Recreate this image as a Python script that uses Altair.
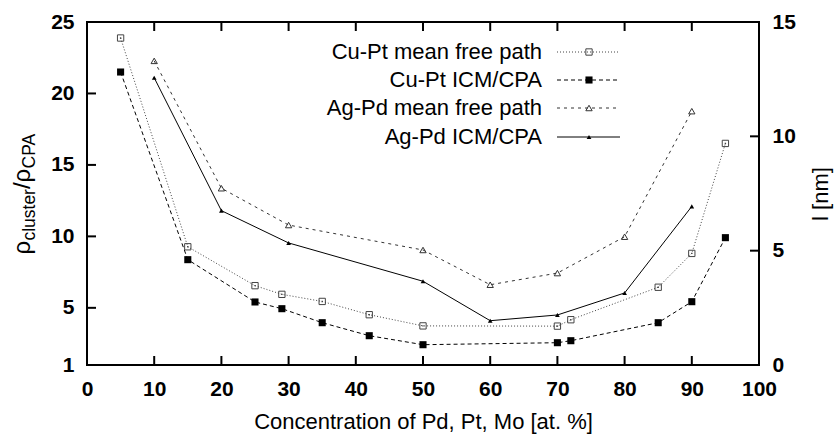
import altair as alt
import pandas as pd

# ---- data -------------------------------------------------------------
conc_cupt = [5, 15, 25, 29, 35, 42, 50, 70, 72, 85, 90, 95]
cupt_mfp = [14.3, 5.17, 3.47, 3.09, 2.78, 2.20, 1.71, 1.70, 1.98, 3.40, 4.88, 9.69]   # l [nm]
cupt_icm = [21.5, 8.37, 5.41, 4.94, 3.96, 3.05, 2.42, 2.56, 2.70, 3.96, 5.43, 9.91]  # rho ratio

conc_agpd = [10, 20, 30, 50, 60, 70, 80, 90]
agpd_mfp = [13.3, 7.73, 6.12, 5.03, 3.51, 4.02, 5.61, 11.1]    # l [nm]
agpd_icm = [21.1, 11.8, 9.54, 6.86, 4.10, 4.50, 6.04, 12.1]    # rho ratio

x_ticks = [0, 10, 20, 30, 40, 50, 60, 70, 80, 90, 100]
rho_ticks = [1, 5, 10, 15, 20, 25]
l_ticks = [0, 5, 10, 15]

legend_names = ["Cu-Pt mean free path", "Cu-Pt ICM/CPA",
                "Ag-Pd mean free path", "Ag-Pd ICM/CPA"]

# ---- layout -----------------------------------------------------------
W, H = 672, 343
FONT = "Liberation Sans"
TICK = 9

cupt = pd.DataFrame({"c": conc_cupt, "mfp": cupt_mfp, "icm": cupt_icm})
agpd = pd.DataFrame({"c": conc_agpd, "mfp": agpd_mfp, "icm": agpd_icm})

x_scale = alt.Scale(domain=[0, 100], nice=False, zero=False)
rho_scale = alt.Scale(domain=[1, 25], nice=False, zero=False)
l_scale = alt.Scale(domain=[0, 15], nice=False, zero=False)

x_axis = alt.Axis(values=x_ticks, title="Concentration of Pd, Pt, Mo [at. %]",
                  labelFlush=False, labelPadding=13, labelOverlap=False,
                  titleY=63, titleBaseline="alphabetic", titleFontSize=22,
                  titleFontWeight="normal")
left_axis = alt.Axis(values=rho_ticks, title=None, orient="left",
                     labelPadding=13, labelOverlap=False)
right_axis = alt.Axis(values=l_ticks, orient="right", title="l [nm]",
                      labelPadding=13, labelOverlap=False,
                      titleAngle=270, titleX=61, titleY=H / 2,
                      titleAlign="center", titleBaseline="middle",
                      titleFontSize=22, titleFontWeight="normal")


def xenc(field):
    return alt.X(f"{field}:Q", scale=x_scale, axis=x_axis)


STYLES = {
    "Cu-Pt mean free path": dict(dash=[1, 2], color="#444444", shape="square",
                                 size=40, filled=False),
    "Cu-Pt ICM/CPA": dict(dash=[4, 3], color="black", shape="square",
                          size=50, filled=True),
    "Ag-Pd mean free path": dict(dash=[3, 4], color="#333333", shape="triangle-up",
                                 size=40, filled=False),
    "Ag-Pd ICM/CPA": dict(dash=None, color="black", shape="triangle-up",
                          size=22, filled=True),
}


def series(df, field, scale, axis, name):
    st = STYLES[name]
    x = xenc("c")
    y = alt.Y(f"{field}:Q", scale=scale, axis=axis)
    line_kw = dict(color=st["color"], strokeWidth=1)
    if st["dash"]:
        line_kw["strokeDash"] = st["dash"]
    line = alt.Chart(df).mark_line(**line_kw).encode(x=x, y=y)
    pts = alt.Chart(df).mark_point(shape=st["shape"], size=st["size"],
                                   filled=st["filled"], color=st["color"],
                                   opacity=1, strokeWidth=1).encode(x=x, y=y)
    layers = [line, pts]
    if st["shape"] == "square" and not st["filled"]:
        layers.append(alt.Chart(df).mark_point(shape="square", size=2, filled=True,
                                               color=st["color"], opacity=1)
                      .encode(x=x, y=y))
    return layers


# inward ticks on all four sides
xt = pd.DataFrame({"t": x_ticks[1:-1]})
bottom_ticks = alt.Chart(xt).mark_rule(color="black", strokeWidth=2).encode(
    x=xenc("t"), y=alt.value(H), y2=alt.value(H - TICK))
top_ticks = alt.Chart(xt).mark_rule(color="black", strokeWidth=2).encode(
    x=xenc("t"), y=alt.value(0), y2=alt.value(TICK))
left_ticks = alt.Chart(pd.DataFrame({"t": rho_ticks[1:-1]})).mark_rule(
    color="black", strokeWidth=2).encode(
    y=alt.Y("t:Q", scale=rho_scale, axis=left_axis), x=alt.value(0), x2=alt.value(TICK))
right_ticks = alt.Chart(pd.DataFrame({"t": l_ticks[1:-1]})).mark_rule(
    color="black", strokeWidth=2).encode(
    y=alt.Y("t:Q", scale=l_scale, axis=right_axis), x=alt.value(W), x2=alt.value(W - TICK))

left_layer = alt.layer(
    *series(cupt, "icm", rho_scale, left_axis, "Cu-Pt ICM/CPA"),
    *series(agpd, "icm", rho_scale, left_axis, "Ag-Pd ICM/CPA"),
    left_ticks, bottom_ticks, top_ticks,
)
right_layer = alt.layer(
    *series(cupt, "mfp", l_scale, right_axis, "Cu-Pt mean free path"),
    *series(agpd, "mfp", l_scale, right_axis, "Ag-Pd mean free path"),
    right_ticks,
)

# key in the upper middle: label, then line sample with its marker
legend_layers = []
row_y = [30, 58, 86, 115]
for name, yy in zip(legend_names, row_y):
    st = STYLES[name]
    d = pd.DataFrame({"name": [name]})
    legend_layers.append(alt.Chart(d).mark_text(
        align="right", baseline="middle", font=FONT, fontSize=22, color="black"
    ).encode(text="name:N", x=alt.value(455), y=alt.value(yy)))
    rule_kw = dict(color=st["color"], strokeWidth=1)
    if st["dash"]:
        rule_kw["strokeDash"] = st["dash"]
    legend_layers.append(alt.Chart(d).mark_rule(**rule_kw).encode(
        x=alt.value(470), x2=alt.value(533), y=alt.value(yy)))
    legend_layers.append(alt.Chart(d).mark_point(
        shape=st["shape"], size=st["size"], filled=st["filled"],
        color=st["color"], opacity=1, strokeWidth=1
    ).encode(x=alt.value(502), y=alt.value(yy)))

# rotated left title with subscripts: rho_cluster / rho_CPA
MAIN, SUB = 24, 17.5
pieces = [("ρ", MAIN, 0.58), ("cluster", SUB, 2.945), ("/", MAIN, 0.278),
          ("ρ", MAIN, 0.58), ("CPA", SUB, 2.056)]
total = sum(sz * w for _, sz, w in pieces)
pos = H / 2 + total / 2
title_layers = []
for txt, sz, w in pieces:
    base_x = -57 if sz == MAIN else -52
    title_layers.append(alt.Chart(pd.DataFrame({"s": [txt]})).mark_text(
        align="left", baseline="alphabetic", angle=270, font=FONT,
        fontSize=sz, color="black"
    ).encode(text="s:N", x=alt.value(base_x), y=alt.value(pos)))
    pos -= sz * w

chart = alt.layer(left_layer, right_layer, *legend_layers, *title_layers).resolve_scale(
    y="independent"
).properties(
    width=W, height=H,
    autosize=alt.AutoSizeParams(type="none"),
    padding={"left": 87, "top": 22, "right": 838 - 87 - W, "bottom": 434 - 22 - H},
).configure_view(
    stroke="black", strokeWidth=2
).configure_axis(
    domain=False, ticks=False, grid=False,
    labelFont=FONT, labelFontSize=21, labelFontWeight="bold", labelColor="black",
    titleFont=FONT, titleColor="black",
)

chart.save("out.html", embed_options={"renderer": "svg", "actions": False})
